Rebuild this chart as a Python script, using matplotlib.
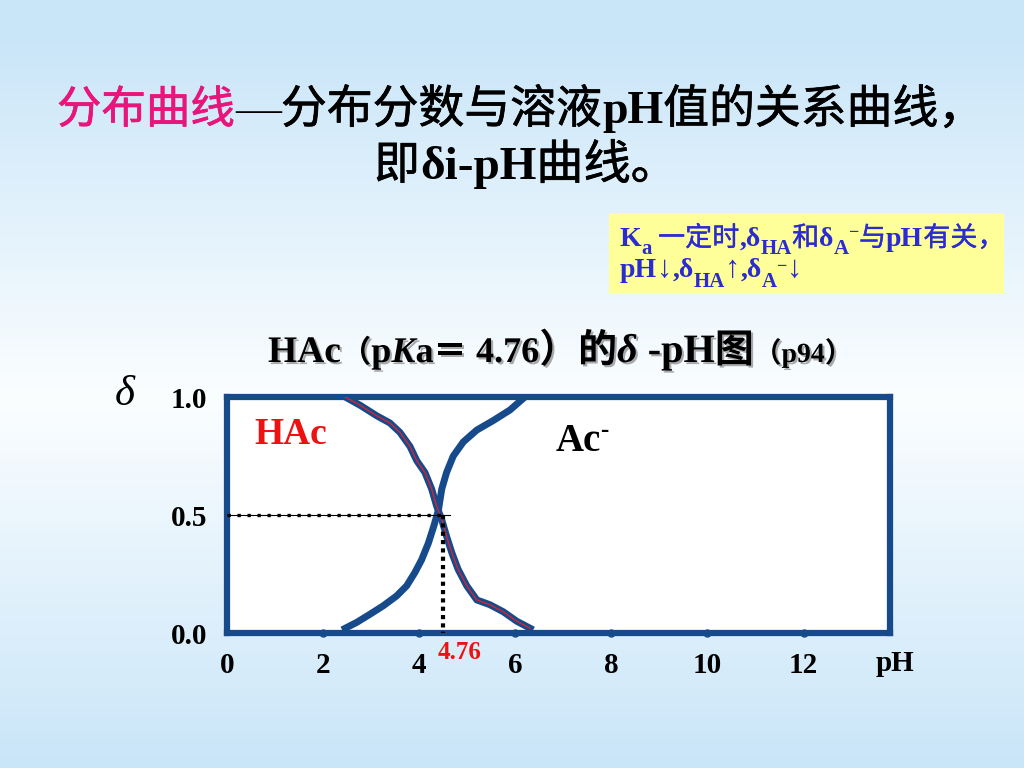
import numpy as np
import matplotlib
matplotlib.use('Agg')
import matplotlib.pyplot as plt
import matplotlib.patheffects as pe
from matplotlib.patches import Rectangle
from matplotlib.transforms import IdentityTransform

# curve points (pH, distribution fraction)
ph_hac = [2.46, 2.77, 3.12, 3.39, 3.60, 3.81, 3.95, 4.12, 4.26, 4.36,
          4.47, 4.57, 4.68, 4.81, 4.99, 5.20, 5.47, 5.75, 6.03, 6.31]
d_hac = [1.00, 0.965, 0.92, 0.89, 0.85, 0.79, 0.73, 0.68, 0.61, 0.54,
         0.48, 0.41, 0.34, 0.27, 0.20, 0.14, 0.12, 0.09, 0.05, 0.02]
ph_ac = [2.46, 2.70, 2.98, 3.25, 3.53, 3.74, 3.91, 4.05, 4.19, 4.30,
         4.40, 4.47, 4.57, 4.71, 4.92, 5.20, 5.54, 5.89, 6.20]
d_ac = [0.02, 0.045, 0.08, 0.115, 0.157, 0.20, 0.256, 0.31, 0.38, 0.45,
        0.52, 0.61, 0.68, 0.75, 0.81, 0.86, 0.90, 0.945, 1.00]
pka_mark = 4.50      # where the dotted guide drops
half = 0.5
x_ticks = [0, 2, 4, 6, 8, 10, 12]
y_ticks = [0.0, 0.5, 1.0]
y_labels = ['0.0', '0.5', '1.0']

NAVY = '#174a8b'
PINK = '#e8157a'
BLUE_TXT = '#2b2bd3'
SERIF = ['Liberation Serif', 'Noto Sans CJK SC', 'DejaVu Sans']
CJK = ['Noto Sans CJK SC', 'DejaVu Sans']

fig = plt.figure(figsize=(10.24, 7.68), dpi=100)

# slide background: light blue -> white -> light blue
bg = fig.add_axes([0, 0, 1, 1], zorder=-10)
bg.axis('off')
t = np.linspace(0, 1, 256)
w = np.clip(1 - np.abs(t - 0.52) * 2.1, 0, 1)
edge = np.array([0.79, 0.90, 0.975])
mid = np.array([0.985, 0.995, 1.0])
grad = edge[None, :] * (1 - w[:, None]) + mid[None, :] * w[:, None]
bg.imshow(grad[:, None, :], aspect='auto', extent=[0, 1, 0, 1])
bg.set_xlim(0, 1)
bg.set_ylim(0, 1)


def runs(x, y, parts, color='black', ha='left', shadow=False):
    """Lay out text pieces one after the other, in pixel coordinates."""
    r = fig.canvas.get_renderer()
    x0 = x
    texts = []
    for p in parts:
        s, size = p[0], p[1]
        opts = dict(p[2]) if len(p) > 2 else {}
        dy = opts.pop('dy', 0)
        thick = opts.pop('thick', 0)
        opts.setdefault('family', SERIF)
        opts.setdefault('weight', 'bold')
        opts.setdefault('color', color)
        tx = fig.text(x, y + dy, s, transform=IdentityTransform(),
                      fontsize=size, va='baseline', ha='left', **opts)
        if shadow:
            tx.set_path_effects([pe.withSimplePatchShadow(
                offset=(1.5, -1.5), shadow_rgbFace='0.45', alpha=0.6)])
        elif thick:
            # a bit heavier strokes for the CJK glyphs
            tx.set_path_effects([pe.withStroke(linewidth=thick,
                                               foreground=opts['color'])])
        texts.append(tx)
        x = tx.get_window_extent(r).x1
    if ha == 'center':
        shift = (x - x0) / 2
        for tx in texts:
            tx.set_x(tx.get_position()[0] - shift)
    return texts


# title
cjt = {'family': CJK, 'weight': 'normal', 'thick': 0.5}
runs(57, 645, [
    ('分布曲线', 32, dict(cjt, color=PINK)),
    ('—', 33, {'weight': 'normal'}),
    ('分布分数与溶液', 33, cjt),
    ('pH', 33),
    ('值的关系曲线，', 33, cjt),
])
runs(526, 589, [
    ('即', 33, cjt),
    ('δi-pH', 34),
    ('曲线。', 34, cjt),
], ha='center')

# yellow note box
fig.patches.append(Rectangle((609, 475), 395, 80, transform=IdentityTransform(),
                             facecolor='#ffff99', edgecolor='none', zorder=1))
cj = {'family': CJK, 'weight': 'normal', 'thick': 0.25}
runs(620, 522, [
    ('K', 20), ('a', 15, {'dy': -8}), (' 一定时', 19.5, cj), (',δ', 20),
    ('HA', 15, {'dy': -8}), ('和', 19.5, cj), ('δ', 20), ('A', 15, {'dy': -8}),
    ('−', 13, {'dy': 9}), ('与', 19.5, cj), ('pH', 20), ('有关，', 19.5, cj),
], color=BLUE_TXT)
runs(620, 491, [
    ('pH', 20), ('↓', 22), (',δ', 20), ('HA', 15, {'dy': -10}),
    ('↑', 22), (',δ', 20), ('A', 15, {'dy': -10}),
    ('−', 13, {'dy': 6}), ('↓', 22),
], color=BLUE_TXT)

# chart title with soft shadow
runs(268, 406, [
    ('HAc', 27), ('（', 22, {'family': CJK}), ('p', 26), ('K', 26, {'style': 'italic'}),
    ('a', 26), ('＝', 24, {'family': CJK}), (' 4.76', 26), ('）的', 28, {'family': CJK}),
    ('δ', 29, {'style': 'italic'}), (' -pH', 29), ('图', 28, {'family': CJK}),
    ('（', 20, {'family': CJK}), ('p94', 20), ('）', 20, {'family': CJK}),
], shadow=True)

# the plot itself
ax = fig.add_axes([227 / 1024, 135 / 768, 663 / 1024, 236 / 768])
ax.set_facecolor('white')
ax.set_xlim(0, 13.8)
ax.set_ylim(0, 1)
for sp in ax.spines.values():
    sp.set_color(NAVY)
    sp.set_linewidth(4.5)

ax.plot(ph_hac, d_hac, color=NAVY, lw=5, solid_joinstyle='round', zorder=3)
ax.plot(ph_ac, d_ac, color=NAVY, lw=5, solid_joinstyle='round', zorder=3)
ax.plot(ph_hac, d_hac, color='#e8202a', lw=0.9, zorder=4)

ax.plot([0, pka_mark], [half, half], color='black', lw=0.8, zorder=5)
ax.plot([0, pka_mark], [half, half], color='black', lw=2.4, ls=(0, (1, 2.0)), zorder=5)
ax.plot([pka_mark, pka_mark + 0.15], [half, half], color='black', lw=0.8, zorder=5)
ax.plot([pka_mark, pka_mark], [half, 0], color='black', lw=3, ls=(0, (1, 1)), zorder=5)

# small round tick marks sitting on the bottom frame
ax.plot(x_ticks[1:], [0] * (len(x_ticks) - 1), 'o', ms=5, color=NAVY,
        clip_on=False, zorder=6)

ax.set_xticks(x_ticks)
ax.set_xticklabels([str(v) for v in x_ticks])
ax.set_yticks(y_ticks)
ax.set_yticklabels(y_labels)
ax.tick_params(length=0, labelsize=21)
ax.tick_params(axis='x', pad=14)
ax.tick_params(axis='y', pad=14)
for lab in ax.get_xticklabels() + ax.get_yticklabels():
    lab.set_family(SERIF)
    lab.set_weight('bold')

ax.text(0.58, 0.80, 'HAc', color='#ee1111', fontsize=27, family=SERIF,
        weight='bold', va='baseline')
ax.text(4.85, -0.082, '4.76', color='#ee1111', fontsize=18, family=SERIF,
        weight='bold', ha='center', va='center')
ax.text(-0.154, 1.01, 'δ', transform=ax.transAxes, fontsize=31,
        family=SERIF, style='italic', ha='center', va='center')
ax.text(1.008, -0.13, 'pH', transform=ax.transAxes, fontsize=21,
        family=SERIF, weight='bold', ha='center', va='center')

fig.canvas.draw()
ax_x, ax_y = ax.transData.transform((6.83, 0.77))
runs(ax_x, ax_y, [('Ac', 28), ('-', 18, {'dy': 14})])

fig.savefig('out.png', dpi=100)
